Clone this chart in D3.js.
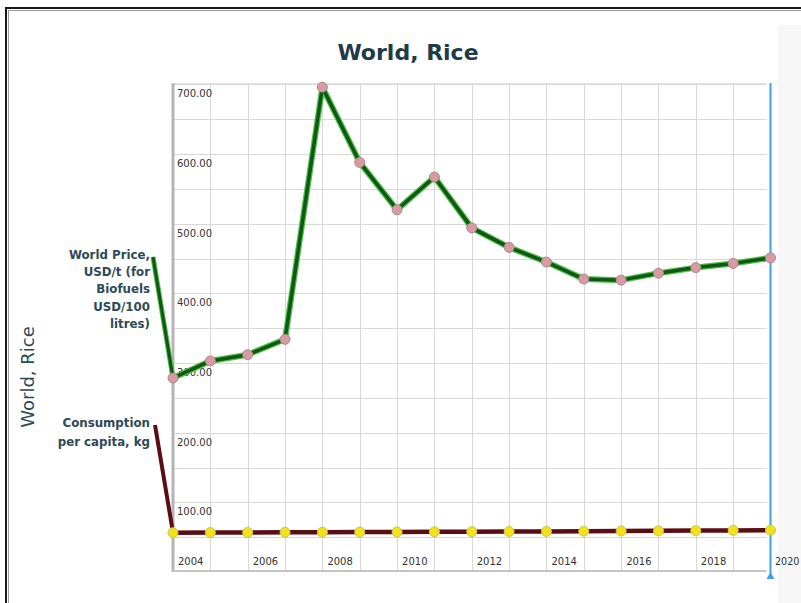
<!DOCTYPE html>
<html>
<head>
<meta charset="utf-8">
<script src="https://cdn.jsdelivr.net/npm/d3@7"></script>
<style>
  html, body { margin: 0; padding: 0; background: #fff; }
  svg { display: block; }
</style>
</head>
<body>
<svg id="chart" width="801" height="603"></svg>
<script>
// World rice: price and per-capita consumption by year
const years = [2004, 2005, 2006, 2007, 2008, 2009, 2010, 2011, 2012, 2013, 2014, 2015, 2016, 2017, 2018, 2019, 2020];
const worldPrice = [278.5, 303, 312, 334, 696, 588, 520, 567, 494, 466, 445, 420.5, 419, 429, 437, 443, 451];
const consumption = [56.4, 56.6, 56.8, 57.0, 57.2, 57.3, 57.5, 57.7, 57.9, 58.1, 58.3, 58.6, 58.8, 59.1, 59.4, 59.7, 60.1];
const yTicks = [100, 200, 300, 400, 500, 600, 700];
const yGrid = [50, 100, 150, 200, 250, 300, 350, 400, 450, 500, 550, 600, 650, 700];
const xTickYears = [2004, 2006, 2008, 2010, 2012, 2014, 2016, 2018, 2020];
const priceLabel = ["World Price,", "USD/t (for", "Biofuels", "USD/100", "litres)"];
const consLabel = ["Consumption", "per capita, kg"];

const svg = d3.select("#chart");
const FONT = "'DejaVu Sans', Verdana, sans-serif";

// outer frame
svg.append("rect").attr("x", 778).attr("y", 25).attr("width", 30).attr("height", 590).attr("fill", "#f7f7f7");
svg.append("rect").attr("x", 6).attr("y", 8).attr("width", 900).attr("height", 700)
  .attr("fill", "none").attr("stroke", "#1a1a1a").attr("stroke-width", 2);
svg.append("rect").attr("x", 8.5).attr("y", 10.5).attr("width", 900).attr("height", 700)
  .attr("fill", "none").attr("stroke", "#9a9a9a").attr("stroke-width", 1);

const x = d3.scaleLinear().domain([2004, 2020]).range([173, 770.5]);
const y = d3.scaleLinear().domain([0, 702]).range([572, 83]);

// grid
const grid = svg.append("g");
grid.selectAll(".hg").data(yGrid).join("line")
  .attr("x1", x(2004)).attr("x2", x(2020) - 4)
  .attr("y1", d => Math.round(y(d)) + 0.5).attr("y2", d => Math.round(y(d)) + 0.5)
  .attr("stroke", "#d8d8d8").attr("stroke-width", 1);
grid.selectAll(".vg").data(years.slice(1, -1)).join("line")
  .attr("x1", d => Math.round(x(d)) + 0.5).attr("x2", d => Math.round(x(d)) + 0.5)
  .attr("y1", y(702)).attr("y2", 571)
  .attr("stroke", "#d8d8d8").attr("stroke-width", 1);
grid.append("line").attr("x1", x(2004)).attr("x2", x(2020) - 4)
  .attr("y1", y(702) + 0.5).attr("y2", y(702) + 0.5).attr("stroke", "#e4e4e4");

// axes lines
svg.append("line").attr("x1", x(2004)).attr("x2", x(2004))
  .attr("y1", y(702)).attr("y2", 572).attr("stroke", "#b5b5b5").attr("stroke-width", 3);
svg.append("line").attr("x1", x(2004)).attr("x2", x(2020) - 4)
  .attr("y1", 571).attr("y2", 571).attr("stroke", "#c4c4c4").attr("stroke-width", 2);

// y tick labels
svg.selectAll(".yl").data(yTicks).join("text")
  .attr("x", x(2004) + 4).attr("y", d => y(d) + 13)
  .attr("font-family", FONT).attr("font-size", 10).attr("fill", "#333")
  .text(d => d3.format(".2f")(d));

// x tick labels
svg.selectAll(".xl").data(xTickYears).join("text")
  .attr("x", d => d === 2020 ? x(d) + 4.5 : x(d) + 5).attr("y", 565)
  .attr("font-family", FONT).attr("font-size", d => d === 2020 ? 9.6 : 10).attr("fill", "#333")
  .text(d => d);

// current-year marker
svg.append("line").attr("x1", x(2020)).attr("x2", x(2020))
  .attr("y1", y(702)).attr("y2", 576).attr("stroke", "#3aa0ea").attr("stroke-width", 2);
svg.append("path")
  .attr("d", `M${x(2020) - 4},579 L${x(2020) + 4},579 L${x(2020)},572 Z`)
  .attr("fill", "#3aa0ea");

// series labels with connectors
const labelG = svg.append("g").attr("font-family", FONT).attr("font-size", 11.8)
  .attr("font-weight", "bold").attr("fill", "#2c4a58").attr("text-anchor", "end");
labelG.selectAll(".pl").data(priceLabel).join("text")
  .attr("x", 150).attr("y", (d, i) => 259 + i * 17.2).text(d => d);
labelG.selectAll(".cl").data(consLabel).join("text")
  .attr("x", 150).attr("y", (d, i) => 427 + i * 19).text(d => d);

const priceData = years.map((yr, i) => ({ yr, v: worldPrice[i] }));
const consData = years.map((yr, i) => ({ yr, v: consumption[i] }));
const line = d3.line().x(d => x(d.yr)).y(d => y(d.v));

// connectors from label to first point
svg.append("line").attr("x1", 153).attr("y1", 257).attr("x2", x(2004)).attr("y2", y(worldPrice[0]))
  .attr("stroke", "#55b94a").attr("stroke-width", 5);
svg.append("line").attr("x1", 153).attr("y1", 257).attr("x2", x(2004)).attr("y2", y(worldPrice[0]))
  .attr("stroke", "#0c5a12").attr("stroke-width", 3);
svg.append("line").attr("x1", 155).attr("y1", 425).attr("x2", x(2004)).attr("y2", y(consumption[0]))
  .attr("stroke", "#5a0d12").attr("stroke-width", 4);

// price series
svg.append("path").datum(priceData).attr("d", line)
  .attr("fill", "none").attr("stroke", "#52bd48").attr("stroke-width", 6).attr("stroke-linejoin", "round");
svg.append("path").datum(priceData).attr("d", line)
  .attr("fill", "none").attr("stroke", "#0c5a12").attr("stroke-width", 3.5).attr("stroke-linejoin", "round");

// consumption series
svg.append("path").datum(consData).attr("d", line)
  .attr("fill", "none").attr("stroke", "#5a0d12").attr("stroke-width", 4.5);

svg.selectAll(".pp").data(priceData).join("circle")
  .attr("cx", d => x(d.yr)).attr("cy", d => y(d.v)).attr("r", 5)
  .attr("fill", "#d99aa3").attr("stroke", "#a9898c").attr("stroke-width", 1);
svg.selectAll(".cp").data(consData).join("circle")
  .attr("cx", d => x(d.yr)).attr("cy", d => y(d.v)).attr("r", 5)
  .attr("fill", "#f3e21a").attr("stroke", "#c9c35a").attr("stroke-width", 1);

// titles
svg.append("text").attr("x", 408).attr("y", 60).attr("text-anchor", "middle")
  .attr("font-family", FONT).attr("font-weight", "bold").attr("font-size", 22)
  .attr("fill", "#1f3a48").text("World, Rice");
svg.append("text").attr("transform", "translate(34,377) rotate(-90)").attr("text-anchor", "middle")
  .attr("font-family", FONT).attr("font-size", 18)
  .attr("fill", "#2c4a58").text("World, Rice");
</script>
</body>
</html>
